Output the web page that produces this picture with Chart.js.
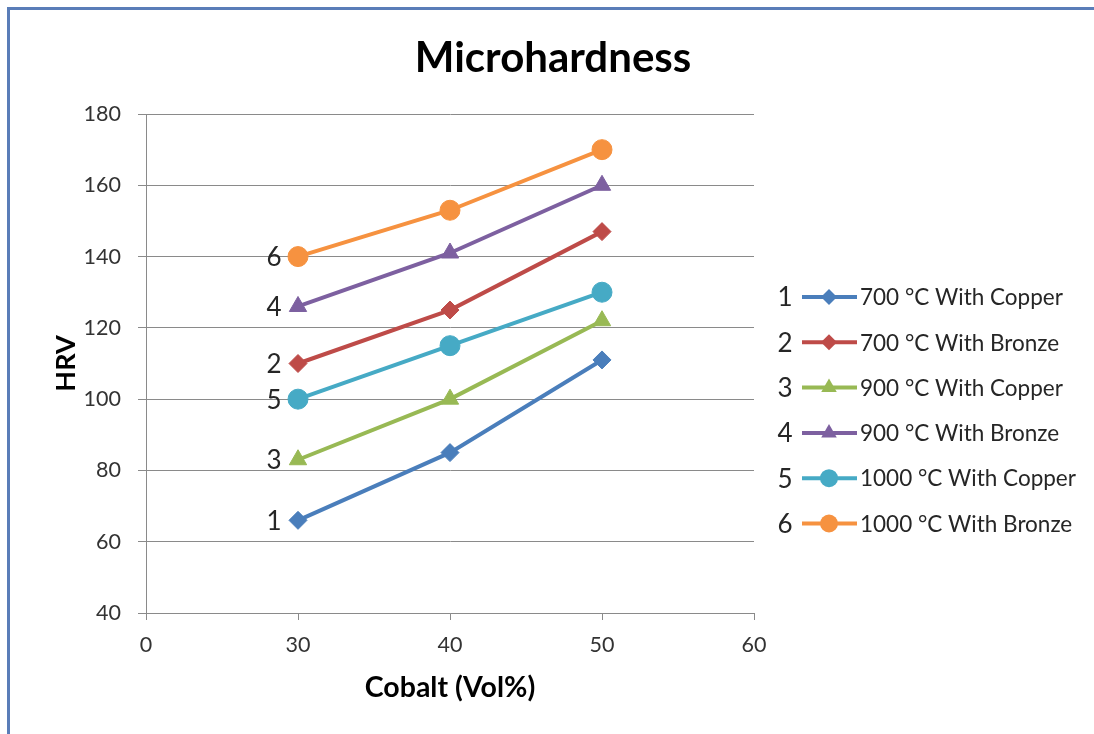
<!DOCTYPE html>
<html>
<head>
<meta charset="utf-8">
<script src="https://cdn.jsdelivr.net/npm/chart.js@4/dist/chart.umd.min.js"></script>
<style>
  html, body { margin: 0; padding: 0; background: #fff; }
  #wrap { position: relative; width: 1094px; height: 734px; overflow: hidden; }
  #frame { position: absolute; left: 7px; top: 7px; right: -10px; bottom: -10px;
           border-top: 3px solid #5a7db8; border-left: 3px solid #5a7db8; }
  #Chart { position: absolute; left: 0; top: 0; }
</style>
</head>
<body>
<div id="wrap">
  <div id="frame"></div>
  <canvas id="Chart" width="1094" height="734"></canvas>
</div>
<script>
let graph = document.getElementById('Chart');

// cobalt content categories (end slots left empty)
let cobalt = ['0', '30', '40', '50', '60'];

let names = ['700 °C With Copper', '700 °C With Bronze', '900 °C With Copper',
             '900 °C With Bronze', '1000 °C With Copper', '1000 °C With Bronze'];
let tags = ['1', '2', '3', '4', '5', '6'];

let cu700 = [null, 66, 85, 111, null];
let br700 = [null, 110, 125, 147, null];
let cu900 = [null, 83, 100, 122, null];
let br900 = [null, 126, 141, 160, null];
let cu1000 = [null, 100, 115, 130, null];
let br1000 = [null, 140, 153, 170, null];

let colors = ['#4a7ebb', '#be4b48', '#98b954', '#7d60a0', '#46aac5', '#f69240'];
let shapes = ['rectRot', 'rectRot', 'triangle', 'triangle', 'circle', 'circle'];
let sizes = [9, 9, 10, 10, 10, 10];

let series = [cu700, br700, cu900, br900, cu1000, br1000];

Chart.defaults.font.family = 'Lato';

let sets = series.map((vals, i) => ({
    label: names[i],
    data: vals,
    borderColor: colors[i],
    backgroundColor: colors[i],
    borderWidth: 4,
    pointStyle: shapes[i],
    pointRadius: sizes[i],
    pointBorderWidth: 1,
    pointBackgroundColor: colors[i],
    pointBorderColor: colors[i],
    tension: 0
}));

// title, numbers beside the first point of each line, and the side legend
let tagPlugin = {
    id: 'tags',
    afterDatasetsDraw(chart) {
        let ctx = chart.ctx;
        ctx.save();
        ctx.font = 'bold 42px Lato';
        ctx.fillStyle = '#000';
        ctx.textAlign = 'center';
        ctx.textBaseline = 'middle';
        ctx.fillText('Microhardness', 553, 58);

        ctx.font = '26px Lato';
        ctx.fillStyle = '#262626';
        chart.data.datasets.forEach((ds, i) => {
            let pt = chart.getDatasetMeta(i).data[1];
            ctx.fillText(tags[i], pt.x - 24, pt.y + 1);
        });

        let y0 = 297, step = 45.3;
        chart.data.datasets.forEach((ds, i) => {
            let y = y0 + i * step;
            ctx.font = '26px Lato';
            ctx.textAlign = 'center';
            ctx.fillStyle = '#262626';
            ctx.fillText(tags[i], 785, y + 1);
            ctx.strokeStyle = colors[i];
            ctx.lineWidth = 4;
            ctx.beginPath();
            ctx.moveTo(802, y);
            ctx.lineTo(857, y);
            ctx.stroke();
            ctx.fillStyle = colors[i];
            ctx.lineWidth = 1;
            Chart.helpers.drawPoint(ctx, {pointStyle: shapes[i], radius: sizes[i] - 1, rotation: 0}, 829, y);
            ctx.font = '22.5px Lato';
            ctx.textAlign = 'left';
            ctx.fillStyle = '#262626';
            ctx.fillText(names[i], 860, y + 1);
        });
        ctx.restore();
    }
};

let chartData = {
    type: 'line',
    data: { labels: cobalt, datasets: sets },
    options: {
        responsive: false,
        animation: false,
        layout: { padding: { left: 40, right: 340, top: 114, bottom: 0 } },
        plugins: {
            legend: { display: false },
            tooltip: { enabled: false },
            title: { display: false }
        },
        scales: {
            x: {
                offset: false,
                afterFit: s => { s.height = 121; },
                grid: { drawOnChartArea: false, drawTicks: true, tickLength: 7, color: '#8a8a8a' },
                border: { color: '#8a8a8a', width: 1 },
                ticks: { color: '#333', font: { size: 21.5 }, padding: 12, maxRotation: 0 },
                title: { display: true, text: 'Cobalt (Vol%)', color: '#000',
                         font: { size: 28.5, weight: 'bold' }, padding: { top: 0, bottom: 29 } }
            },
            y: {
                min: 40,
                max: 180,
                afterFit: s => { s.width = 106; },
                grid: { color: '#8a8a8a', lineWidth: 1, drawTicks: true, tickLength: 8 },
                border: { color: '#8a8a8a', width: 1 },
                ticks: { stepSize: 20, color: '#333', font: { size: 21.5 }, padding: 17 },
                title: { display: true, text: 'HRV', color: '#000',
                         font: { size: 27, weight: 'bold' }, padding: { top: 10, bottom: 0 } }
            }
        }
    },
    plugins: [tagPlugin]
};

let presentdata = new Chart(graph, chartData);
</script>
</body>
</html>
